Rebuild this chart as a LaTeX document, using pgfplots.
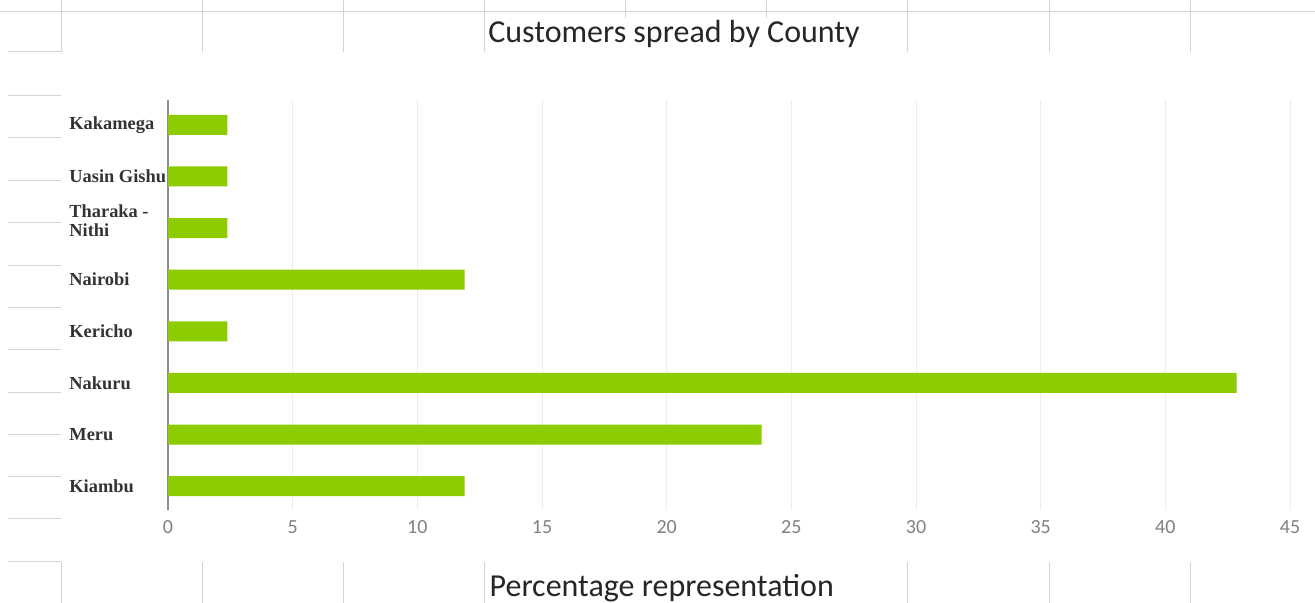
\documentclass[border=0pt]{standalone}
\usepackage{fontspec}
\setmainfont{Carlito}
\newfontfamily\lserif{Liberation Serif}
\usepackage{pgfplots}
\pgfplotsset{compat=1.18}
\definecolor{barG}{RGB}{140,204,0}
\definecolor{sheet}{RGB}{212,212,212}
\definecolor{gridc}{RGB}{236,236,236}
\definecolor{tickc}{RGB}{128,128,128}
\definecolor{axc}{RGB}{140,140,140}
\definecolor{labc}{RGB}{51,51,51}
\definecolor{titc}{RGB}{38,38,38}
\begin{document}
\begin{tikzpicture}
\useasboundingbox (0pt,0pt) rectangle (657.5pt,301.5pt);
\begin{scope}[draw=sheet, line width=0.5pt]
\draw (0pt,295.5pt) -- (657.5pt,295.5pt);
\foreach \x in {61,202,343,484,907,1049,1190} {
  \draw ({\x*0.5pt},301.5pt) -- ({\x*0.5pt},275.5pt);
  \draw ({\x*0.5pt},20.5pt) -- ({\x*0.5pt},0pt);
}
\foreach \x in {625,766} {\draw ({\x*0.5pt},301.5pt) -- ({\x*0.5pt},292.5pt);}
\foreach \y in {52,96,138,181,223,266,308,350,393,435,477,519,562} {
  \draw (4pt,{(603-\y)*0.5pt}) -- (30.5pt,{(603-\y)*0.5pt});
}
\end{scope}
\begin{axis}[
  at={(84pt,46.5pt)}, anchor=south west,
  scale only axis, width=561pt, height=205pt,
  xbar, bar width=10pt,
  xmin=0, xmax=45, ymin=-0.46, ymax=7.48,
  xtick={0,5,...,45},
  ytick={0,...,7},
  yticklabels={Kiambu,Meru,Nakuru,Kericho,Nairobi,{\smash{\raisebox{0.2pt}{\begin{tabular}{@{}l@{}}Tharaka -\\Nithi\end{tabular}}}},Uasin Gishu,Kakamega},
  major tick length=0pt,
  xmajorgrids, grid style={draw=gridc, line width=0.5pt},
  axis x line*=bottom, axis y line*=left,
  x axis line style={draw=none,-},
  y axis line style={draw=axc, line width=0.75pt,-},
  /pgf/number format/assume math mode=true,
  xticklabel style={font=\fontsize{10}{12}\selectfont, text=tickc, inner sep=0pt, anchor=north, yshift=-5pt},
  yticklabel style={font=\lserif\bfseries\fontsize{9.2}{9.5}\selectfont, text=labc, anchor=west, inner sep=0pt, xshift=-49.5pt},
  title={Customers spread by County},
  title style={at={(axis description cs:0.451,1.141)}, anchor=base, yshift=-6pt, font=\fontsize{16}{19}\selectfont, text=titc, inner sep=0pt},
  xlabel={Percentage representation},
  xlabel style={at={(axis description cs:0.440,-0.207)}, anchor=base, yshift=-1pt, font=\fontsize{16}{19}\selectfont, text=titc, inner sep=0pt},
]
\addplot[fill=barG, draw=none] coordinates {(11.90,0) (23.81,1) (42.86,2) (2.38,3) (11.90,4) (2.38,5) (2.38,6) (2.38,7)};
\end{axis}
\end{tikzpicture}
\end{document}
